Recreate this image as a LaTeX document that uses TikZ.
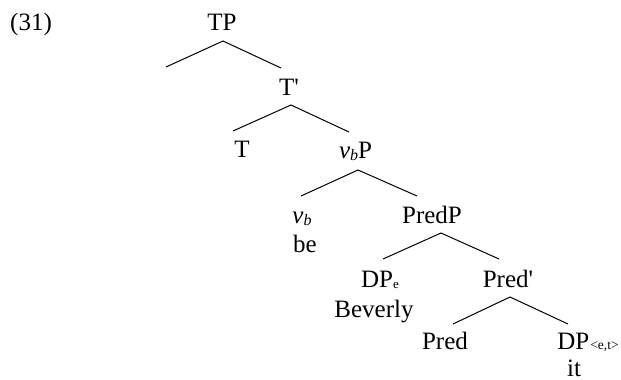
\documentclass[tikz,border=0pt]{standalone}
\usepackage{fontspec}
\setmainfont{Liberation Serif}
\newfontfamily\plainfont{Liberation Serif}
\begin{document}
\begin{tikzpicture}[x=1pt,y=-1pt,
  lbl/.style={anchor=base, inner sep=0pt, font=\fontsize{25}{30}\selectfont},
  br/.style={line width=1pt, black}]
\newcommand{\subsm}[1]{{\fontsize{16}{16}\selectfont #1}}
\newcommand{\subxs}[1]{{\fontsize{13}{13}\selectfont #1}}
\newcommand{\prm}{{\plainfont '}}
\useasboundingbox (0,0) rectangle (621,380);
% labels
\node[lbl] (ex) at (31,30.5) {(31)};
\node[lbl] (TP) at (222,30.5) {TP};
\node[lbl] (Tbar) at (289,95) {T\prm};
\node[lbl] (T) at (242,157) {T};
\node[lbl] (vbP) at (355.5,158) {\textit{v}\raisebox{-2pt}{\subsm{\textit{b}}}P};
\node[lbl] (vb) at (302,223) {\textit{v}\raisebox{-2pt}{\subsm{\textit{b}}}};
\node[lbl] (be) at (305,252) {be};
\node[lbl] (PredP) at (432,223) {PredP};
\node[lbl] (DPe) at (380,287) {DP\raisebox{-1pt}{\subxs{e}}};
\node[lbl] (Bev) at (374,317) {Beverly};
\node[lbl] (Predbar) at (508,287) {Pred\prm};
\node[lbl] (Pred) at (445,349) {Pred};
\node[lbl] (DPet) at (588,349) {DP\hspace{1pt}{\fontsize{13.5}{13.5}\selectfont <e,t>}};
\node[lbl] (it) at (574,376) {it};
% branch points
\coordinate (TPa) at (223,41);
\coordinate (TPl) at (166,67);
\coordinate (TPr) at (281,68);
\coordinate (Ta) at (291,105);
\coordinate (Tl) at (233,131);
\coordinate (Tr) at (349,132);
\coordinate (va) at (358,170);
\coordinate (vl) at (301,196);
\coordinate (vr) at (417,196);
\coordinate (Pa) at (441,233);
\coordinate (Pl) at (383,259);
\coordinate (Pr) at (499,259);
\coordinate (Qa) at (510,297);
\coordinate (Ql) at (453,324);
\coordinate (Qr) at (568,324);
% branches
\draw[br] (TPl) -- (TPa) -- (TPr);
\draw[br] (Tl) -- (Ta) -- (Tr);
\draw[br] (vl) -- (va) -- (vr);
\draw[br] (Pl) -- (Pa) -- (Pr);
\draw[br] (Ql) -- (Qa) -- (Qr);
\end{tikzpicture}
\end{document}
